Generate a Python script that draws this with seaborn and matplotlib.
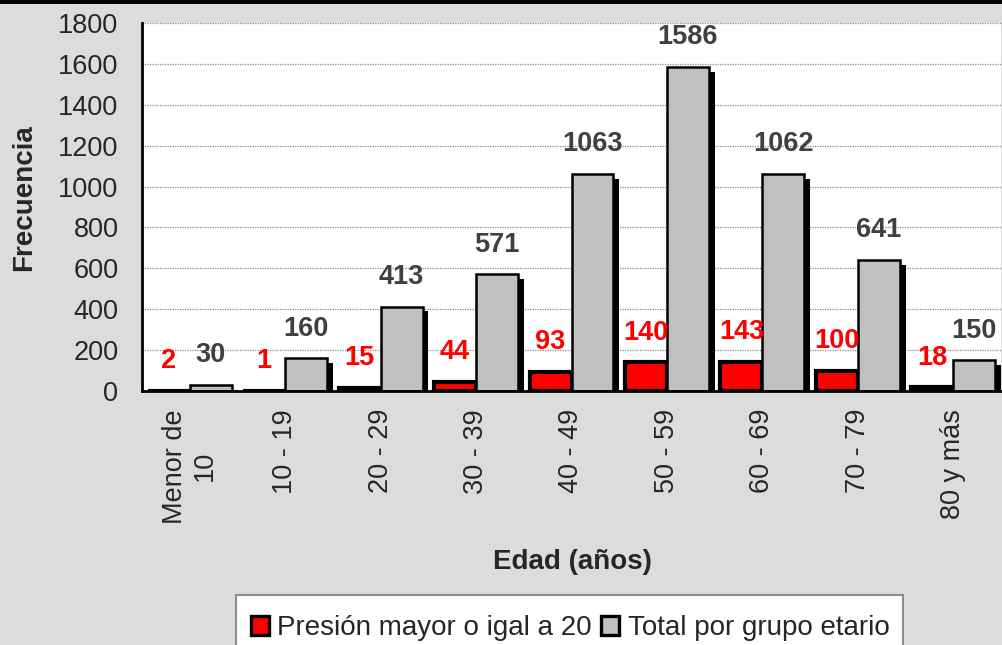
import numpy as np
import pandas as pd
import matplotlib
matplotlib.use("Agg")
import matplotlib.pyplot as plt
import matplotlib.patheffects as pe
from matplotlib.patches import Rectangle
import seaborn as sns


# Data
CATEGORIES = ["Menor de\n10", "10 - 19", "20 - 29", "30 - 39", "40 - 49",
              "50 - 59", "60 - 69", "70 - 79", "80 y más"]
PRESION = [2, 1, 15, 44, 93, 140, 143, 100, 18]
TOTAL = [30, 160, 413, 571, 1063, 1586, 1062, 641, 150]
SERIES = ["Presión mayor o igal a 20", "Total por grupo etario"]
COLORS = ["#ff0000", "#c0c0c0"]
LABEL_COLORS = ["#ff0000", "#404040"]
Y_TICKS = list(range(0, 1801, 200))

BG = "#dcdcdc"

df = pd.DataFrame({
    "edad": CATEGORIES * 2,
    "frecuencia": PRESION + TOTAL,
    "serie": [SERIES[0]] * len(CATEGORIES) + [SERIES[1]] * len(CATEGORIES),
})

sns.set_style("white")
plt.rcParams["font.family"] = ["Liberation Sans", "DejaVu Sans"]

fig = plt.figure(figsize=(10.02, 6.45), dpi=100, facecolor=BG)
ax = fig.add_axes([142 / 1002, 1 - 391 / 645, 859 / 1002, 368 / 645])
ax.set_facecolor("white")

sns.barplot(
    data=df,
    x="edad",
    y="frecuencia",
    hue="serie",
    hue_order=SERIES,
    order=CATEGORIES,
    palette=COLORS,
    saturation=1,
    width=0.88,
    edgecolor="black",
    linewidth=1.8,
    legend=False,
    ax=ax,
)

# Drop shadow on every bar, like the old Excel style
shadow = [pe.SimplePatchShadow(offset=(4.2, -3.5), shadow_rgbFace="black", alpha=1.0),
          pe.Normal()]
for container, lw in zip(ax.containers, [3.0, 1.8]):
    for bar in container:
        bar.set_path_effects(shadow)
        bar.set_linewidth(lw)

# Value labels
for container, vals, col in zip(ax.containers, [PRESION, TOTAL], LABEL_COLORS):
    ax.bar_label(container, labels=[str(v) for v in vals], padding=12,
                 color=col, fontsize=19.5, fontweight="bold")

ax.set_xlim(-0.5, len(CATEGORIES) - 0.5)
ax.set_ylim(0, 1800)
ax.set_yticks(Y_TICKS)
ax.set_yticklabels([str(v) for v in Y_TICKS], fontsize=19.5)

# major ticks between groups, labels on minor ticks at group centres
ax.set_xticks(np.arange(-0.5, len(CATEGORIES), 1.0))
ax.set_xticklabels([])
ax.set_xticks(np.arange(len(CATEGORIES)), minor=True)
ax.set_xticklabels(CATEGORIES, minor=True, rotation=90, fontsize=19.5,
                   va="top", ha="center", multialignment="center")
ax.tick_params(axis="x", which="major", length=7, width=1.8, color="black", direction="out")
ax.tick_params(axis="x", which="minor", length=0, pad=13)
ax.tick_params(axis="y", length=7, width=1.8, color="black", direction="out", pad=10)

ax.yaxis.grid(True, linestyle=(0, (1, 1)), color="#8a8a8a", linewidth=0.9)
ax.set_axisbelow(True)

for side in ["top", "right"]:
    ax.spines[side].set_visible(False)
for side in ["left", "bottom"]:
    ax.spines[side].set_color("black")
    ax.spines[side].set_linewidth(2)

ax.set_xlabel("")
ax.set_ylabel("")
fig.text(572 / 1002, 1 - 562 / 645, "Edad (años)", ha="center", va="center",
         fontsize=20, fontweight="bold")
fig.text(24 / 1002, 1 - 198 / 645, "Frecuencia", ha="center", va="center",
         rotation=90, fontsize=20, fontweight="bold")

# Legend box at the bottom, running off the lower edge
fig.add_artist(Rectangle((236 / 1002, -0.05), (903 - 236) / 1002, 0.05 + 50 / 645,
                         transform=fig.transFigure, facecolor="white",
                         edgecolor="#8c8c8c", linewidth=1.5))
handles = [Rectangle((0, 0), 1, 1, facecolor=c, edgecolor="black", linewidth=2.4)
           for c in COLORS]
leg = fig.legend(handles, SERIES, loc="center", bbox_to_anchor=(570 / 1002, 1 - 628 / 645),
                 ncol=2, fontsize=20, frameon=False,
                 handlelength=0.65, handleheight=0.65, handletextpad=0.3,
                 columnspacing=0.35, borderpad=0, borderaxespad=0)

# black band along the top edge
fig.add_artist(Rectangle((0, 1 - 4 / 645), 1, 4 / 645, transform=fig.transFigure,
                         facecolor="black", edgecolor="none"))

fig.savefig("out.png", dpi=100, facecolor=BG)
